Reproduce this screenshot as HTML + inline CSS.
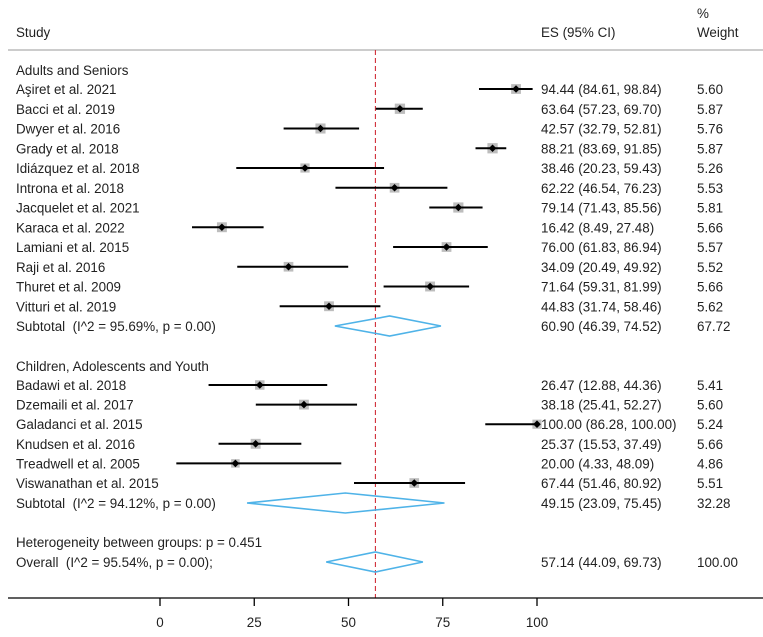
<!DOCTYPE html>
<html><head><meta charset="utf-8"><style>
html,body{margin:0;padding:0;background:#fff;}
svg{display:block;font-family:"Liberation Sans",Arial,sans-serif;font-size:13.4px;fill:#222;}
text{white-space:pre;}
</style></head><body>
<svg id="plot" width="763" height="637" viewBox="0 0 763 637">
<g id="g"></g>
</svg>
<script>
const studies=["Aşiret et al. 2021","Bacci et al. 2019","Dwyer et al. 2016","Grady et al. 2018","Idiázquez et al. 2018","Introna et al. 2018","Jacquelet et al. 2021","Karaca et al. 2022","Lamiani et al. 2015","Raji et al. 2016","Thuret et al. 2009","Vitturi et al. 2019","Badawi et al. 2018","Dzemaili et al. 2017","Galadanci et al. 2015","Knudsen et al. 2016","Treadwell et al. 2005","Viswanathan et al. 2015"];
const es=[94.44,63.64,42.57,88.21,38.46,62.22,79.14,16.42,76.00,34.09,71.64,44.83,26.47,38.18,100.00,25.37,20.00,67.44];
const lo=[84.61,57.23,32.79,83.69,20.23,46.54,71.43,8.49,61.83,20.49,59.31,31.74,12.88,25.41,86.28,15.53,4.33,51.46];
const hi=[98.84,69.70,52.81,91.85,59.43,76.23,85.56,27.48,86.94,49.92,81.99,58.46,44.36,52.27,100.00,37.49,48.09,80.92];
const wt=[5.60,5.87,5.76,5.87,5.26,5.53,5.81,5.66,5.57,5.52,5.66,5.62,5.41,5.60,5.24,5.66,4.86,5.51];
const subLabels=["Subtotal  (I^2 = 95.69%, p = 0.00)","Subtotal  (I^2 = 94.12%, p = 0.00)","Overall  (I^2 = 95.54%, p = 0.00);"];
const subEs=[60.90,49.15,57.14];
const subLo=[46.39,23.09,44.09];
const subHi=[74.52,75.45,69.73];
const subWt=[67.72,32.28,100.00];
const xTicks=[0,25,50,75,100];
const overallEs=57.14;

const NS="http://www.w3.org/2000/svg";
const g=document.getElementById('g');
const x=v=>160+v*3.77;
function el(tag,attrs,txt){const e=document.createElementNS(NS,tag);for(const k in attrs)e.setAttribute(k,attrs[k]);if(txt!==undefined)e.textContent=txt;g.appendChild(e);return e;}
function txt(xx,yy,s,name,anchor){const t=el('text',{x:xx,y:yy,'text-anchor':anchor||'start'},s);


return t;}
const f=v=>v.toFixed(2);

txt(16,37,"Study","study-header");
txt(541,37,"ES (95% CI)","es-header");
txt(697,18,"%","weight-header-pct");
txt(697,37,"Weight","weight-header");
let hl=el('line',{x1:8,y1:50,x2:763,y2:50,stroke:'#bbb','stroke-width':1.5});



const rowY=i=>i<12?89+i*19.75:385+(i-12)*19.6;
txt(16,75,"Adults and Seniors","group-label-adults");
txt(16,371,"Children, Adolescents and Youth","group-label-children");
txt(16,547,"Heterogeneity between groups: p = 0.451","heterogeneity-label");

let rl=el('line',{x1:x(overallEs),y1:50,x2:x(overallEs),y2:598,stroke:'#d0303a','stroke-width':1.1,'stroke-dasharray':'5,3'});



studies.forEach((s,i)=>{
  const y=rowY(i);
  txt(16,y+5,s,'study-label');
  txt(541,y+5,f(es[i])+" ("+f(lo[i])+", "+f(hi[i])+")",'es-ci-value');
  txt(697,y+5,f(wt[i]),'weight-value');
  const sz=wt[i]*1.75;
  const sq=el('rect',{x:x(es[i])-sz/2,y:y-sz/2,width:sz,height:sz,fill:'#bdbdbd'});
  
  
  const ln=el('line',{x1:x(lo[i]),y1:y,x2:x(hi[i]),y2:y,stroke:'#000','stroke-width':2});
  
  
  const d=3.8,cx=x(es[i]);
  const pt=el('polygon',{points:`${cx-d},${y} ${cx},${y-d} ${cx+d},${y} ${cx},${y+d}`,fill:'#000'});
  
  
});

const subY=[326,503,562];
subLabels.forEach((s,i)=>{
  const y=subY[i];
  txt(16,y+5,s,'subtotal-label');
  txt(541,y+5,f(subEs[i])+" ("+f(subLo[i])+", "+f(subHi[i])+")",'subtotal-es-ci');
  txt(697,y+5,f(subWt[i]),'subtotal-weight');
  const h=10;
  const dm=el('polygon',{points:`${x(subLo[i])},${y} ${x(subEs[i])},${y-h} ${x(subHi[i])},${y} ${x(subEs[i])},${y+h}`,fill:'none',stroke:'#4fb3e8','stroke-width':1.6});
  
  
});

let ax=el('line',{x1:8,y1:598,x2:763,y2:598,stroke:'#000','stroke-width':1.3});


xTicks.forEach(v=>{
  const t=el('line',{x1:x(v),y1:598,x2:x(v),y2:606,stroke:'#000','stroke-width':1.3});
  
  
  txt(x(v),627,String(v),'x-tick-label','middle');
});
</script>
</body></html>
